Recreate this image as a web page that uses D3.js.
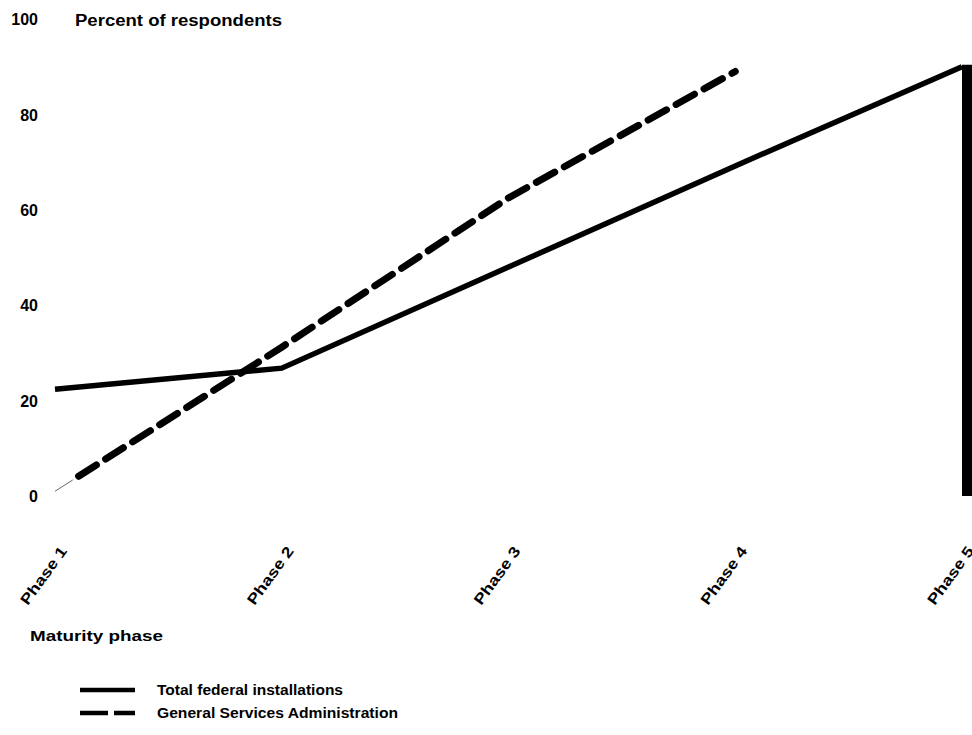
<!DOCTYPE html>
<html>
<head>
<meta charset="utf-8">
<script src="https://cdn.jsdelivr.net/npm/d3@7"></script>
<style>
  html, body { margin: 0; padding: 0; background: #fff; }
  svg text { font-family: "Liberation Sans", Arial, Helvetica, sans-serif; font-weight: bold; fill: #000; }
</style>
</head>
<body>
<svg id="chart" width="972" height="735"></svg>
<script>
const phases = ["Phase 1", "Phase 2", "Phase 3", "Phase 4", "Phase 5"];
const totalFederal = [22.4, 26.8, 48, 69.2, 90];
const gsa = [1, 31.2, 62.5, 89, null];
const phase5Drop = [90, 0];
const yTicks = [0, 20, 40, 60, 80, 100];
const seriesNames = ["Total federal installations", "General Services Administration"];

const svg = d3.select("#chart");
const x = d3.scalePoint().domain(phases).range([55, 962]);
const y = d3.scaleLinear().domain([0, 100]).range([496, 19]);

// clip so the GSA line starts with a faint stub, as in the scan
svg.append("defs").append("clipPath").attr("id", "gsaClip")
  .append("rect").attr("x", x("Phase 1") + 20).attr("y", 0).attr("width", 972).attr("height", 735);

// Y axis labels
const yAxis = svg.append("g")
  .attr("transform", "translate(39,0)")
  .call(d3.axisLeft(y).tickValues(yTicks).tickSize(0).tickPadding(1).tickFormat(d3.format("d")));
yAxis.select(".domain").remove();
yAxis.selectAll("text").attr("dy", "0.36em")
  .style("font-size", "16px").style("font-family", "'Liberation Sans', Arial, sans-serif").style("font-weight", "bold");

// Title
svg.append("text").attr("x", 75).attr("y", 26)
  .attr("textLength", 207).attr("lengthAdjust", "spacingAndGlyphs")
  .style("font-size", "16px").text("Percent of respondents");

// X axis labels
const xAxis = svg.append("g")
  .attr("transform", "translate(0,548)")
  .call(d3.axisBottom(x).tickSize(0).tickPadding(0));
xAxis.select(".domain").remove();
xAxis.selectAll("text")
  .attr("y", 0).attr("dy", "0.35em")
  .attr("text-anchor", "end")
  .attr("transform", "translate(8,0) rotate(-54)")
  .attr("textLength", 68).attr("lengthAdjust", "spacingAndGlyphs")
  .style("font-size", "15px").style("font-family", "'Liberation Sans', Arial, sans-serif").style("font-weight", "bold");

svg.append("text").attr("x", 30).attr("y", 641)
  .attr("textLength", 133).attr("lengthAdjust", "spacingAndGlyphs")
  .style("font-size", "15px").text("Maturity phase");

// Lines
const line = d3.line()
  .defined(d => d.v != null)
  .x(d => x(d.p)).y(d => y(d.v));

svg.append("path")
  .datum(phases.map((p, i) => ({p, v: totalFederal[i]})))
  .attr("fill", "none").attr("stroke", "#000").attr("stroke-width", 5.5)
  .attr("stroke-linejoin", "miter").attr("stroke-linecap", "butt")
  .attr("d", line);

const gsaData = phases.map((p, i) => ({p, v: gsa[i]}));
// faint first segment
svg.append("path")
  .datum(gsaData)
  .attr("fill", "none").attr("stroke", "#666").attr("stroke-width", 1)
  .attr("stroke-dasharray", "21,100000")
  .attr("d", line);
svg.append("path")
  .datum(gsaData)
  .attr("clip-path", "url(#gsaClip)")
  .attr("fill", "none").attr("stroke", "#000").attr("stroke-width", 7)
  .attr("stroke-dasharray", "21,11").attr("stroke-dashoffset", 4)
  .attr("stroke-linecap", "round")
  .attr("d", line);

// Phase 5 vertical drop
svg.append("line")
  .attr("x1", x("Phase 5") + 7).attr("x2", x("Phase 5") + 7)
  .attr("y1", y(phase5Drop[0]) - 2).attr("y2", y(phase5Drop[1]))
  .attr("stroke", "#000").attr("stroke-width", 14);

// Legend
const legend = svg.append("g");
seriesNames.forEach((name, i) => {
  const ly = 690 + i * 23;
  legend.append("line")
    .attr("x1", 80).attr("x2", 135).attr("y1", ly).attr("y2", ly)
    .attr("stroke", "#000").attr("stroke-width", 4.5)
    .attr("stroke-dasharray", i === 1 ? "28,6" : null);
  legend.append("text").attr("x", 157).attr("y", ly + 5)
    .attr("textLength", i === 0 ? 186 : 241).attr("lengthAdjust", "spacingAndGlyphs")
    .style("font-size", "14px").text(name);
});
</script>
</body>
</html>
